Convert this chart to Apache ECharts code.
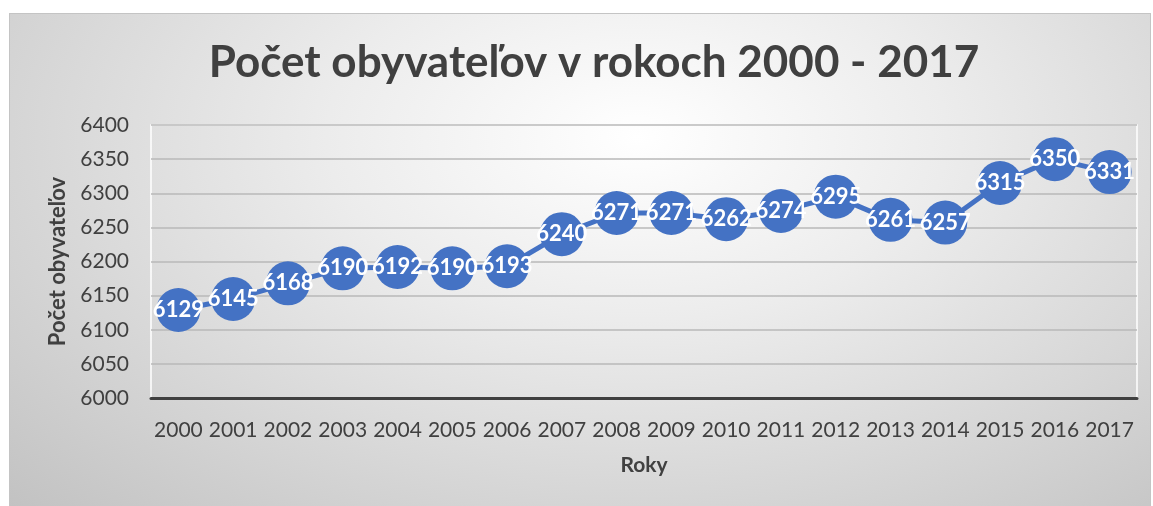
<!DOCTYPE html>
<html>
<head>
<meta charset="utf-8">
<script src="https://cdn.jsdelivr.net/npm/echarts@6/dist/echarts.min.js"></script>
<style>
  html, body { margin: 0; padding: 0; background: #fff; }
  #frame {
    position: absolute; left: 9px; top: 13px; width: 1140px; height: 493px;
    border: 1px solid #c4c4c4; border-bottom: none;
    background: radial-gradient(ellipse farthest-corner at 55% 25%, #ffffff 0%, #ececec 35%, #c2c2c2 100%);
  }
  #chart { position: absolute; left: -10px; top: -14px; width: 1153px; height: 506px; }
</style>
</head>
<body>
<div id="frame"><div id="chart"></div></div>
<script>
// roky a počet obyvateľov
const years = ['2000', '2001', '2002', '2003', '2004', '2005', '2006', '2007', '2008',
  '2009', '2010', '2011', '2012', '2013', '2014', '2015', '2016', '2017'];
const population = [6129, 6145, 6168, 6190, 6192, 6190, 6193, 6240, 6271,
  6271, 6262, 6274, 6295, 6261, 6257, 6315, 6350, 6331];

const font = 'Lato, "Open Sans", sans-serif';
const chart = echarts.init(document.getElementById('chart'));

chart.setOption({
  backgroundColor: 'transparent',
  title: {
    text: 'Počet obyvateľov v rokoch 2000 - 2017',
    left: 589, top: 36, textAlign: 'center',
    textStyle: { fontFamily: font, fontSize: 44, fontWeight: 'bold', color: '#404040' }
  },
  grid: { left: 151, top: 125, right: 16, bottom: 108, show: true, borderColor: '#ffffff', borderWidth: 1.5 },
  xAxis: {
    type: 'category',
    data: years,
    name: 'Roky',
    nameLocation: 'middle',
    nameGap: 57,
    nameTextStyle: { fontFamily: font, fontSize: 21, fontWeight: 'bold', color: '#404040', verticalAlign: 'top' },
    axisLine: { lineStyle: { color: '#404040', width: 3 } },
    axisTick: { show: false },
    axisLabel: { interval: 0, fontFamily: font, fontSize: 21, color: '#404040', margin: 22 }
  },
  yAxis: {
    type: 'value',
    min: 6000, max: 6400, interval: 50,
    name: 'Počet obyvateľov',
    nameLocation: 'middle',
    nameGap: 79,
    nameTextStyle: { fontFamily: font, fontSize: 22, fontWeight: 'bold', color: '#404040' },
    axisLine: { show: false },
    axisTick: { show: false },
    axisLabel: { fontFamily: font, fontSize: 21, color: '#404040', margin: 22, formatter: v => String(v) },
    splitLine: { lineStyle: { color: '#b8b8b8', width: 1.5 } }
  },
  series: [{
    type: 'line',
    data: population,
    symbol: 'circle',
    symbolSize: 44,
    showAllSymbol: true,
    lineStyle: { color: '#4472C4', width: 5 },
    itemStyle: { color: '#4472C4' },
    label: {
      show: true, position: 'inside',
      fontFamily: font, fontSize: 22, fontWeight: 'bold', color: '#ffffff'
    },
    labelLayout: { hideOverlap: false },
    animation: false
  }]
});
</script>
</body>
</html>
